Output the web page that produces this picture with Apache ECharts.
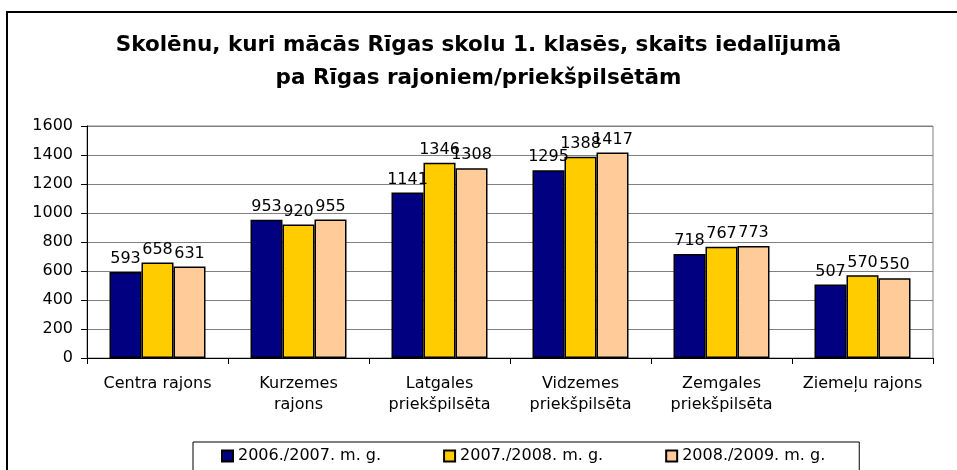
<!DOCTYPE html>
<html>
<head>
<meta charset="utf-8">
<script src="https://cdn.jsdelivr.net/npm/echarts@6/dist/echarts.min.js"></script>
<style>
html,body{margin:0;padding:0;background:#fff;}
#chart{width:957px;height:470px;}
</style>
</head>
<body>
<div id="chart"></div>
<script>
const categories = ['Centra rajons', 'Kurzemes\nrajons', 'Latgales\npriekšpilsēta', 'Vidzemes\npriekšpilsēta', 'Zemgales\npriekšpilsēta', 'Ziemeļu rajons'];
const seriesNames = ['2006./2007. m. g.', '2007./2008. m. g.', '2008./2009. m. g.'];
const values2006 = [593, 953, 1141, 1295, 718, 507];
const values2007 = [658, 920, 1346, 1388, 767, 570];
const values2008 = [631, 955, 1308, 1417, 773, 550];
const colors = ['#000080', '#FFCC00', '#FFCC99'];
const yTicks = { min: 0, max: 1600, interval: 200 };
const titleText = 'Skolēnu, kuri mācās Rīgas skolu 1. klasēs, skaits iedalījumā\npa Rīgas rajoniem/priekšpilsētām';

const FONT = 'DejaVu Sans';
const chart = echarts.init(document.getElementById('chart'), null, { renderer: 'canvas' });
const allValues = [values2006, values2007, values2008];

const series = allValues.map((vals, i) => ({
  name: seriesNames[i],
  type: 'bar',
  data: vals,
  barWidth: 32,
  barGap: '0%',
  itemStyle: { color: colors[i], borderColor: '#000', borderWidth: 1.5 },
  label: {
    show: true, position: 'top', distance: 5,
    fontFamily: FONT, fontSize: 16, color: '#000'
  },
  emphasis: { disabled: true }
}));

chart.setOption({
  animation: false,
  backgroundColor: '#fff',
  title: {
    text: titleText,
    left: 'center',
    top: 29,
    padding: 0,
    textStyle: { fontFamily: FONT, fontWeight: 'bold', fontSize: 21.5, lineHeight: 33, color: '#000' }
  },
  graphic: [{
    type: 'rect', z: 100,
    shape: { x: 7, y: 12, width: 1000, height: 500 },
    style: { fill: 'none', stroke: '#000', lineWidth: 2 },
    silent: true
  }],
  grid: {
    left: 87, right: 24, top: 126, bottom: 112,
    show: true, borderColor: '#808080', borderWidth: 1, backgroundColor: 'transparent'
  },
  legend: {
    data: seriesNames,
    left: 193, top: 442,
    padding: [6, 34, 10, 28],
    itemGap: 62,
    itemWidth: 11, itemHeight: 11,
    icon: 'rect',
    borderColor: '#000', borderWidth: 1,
    textStyle: { fontFamily: FONT, fontSize: 16, color: '#000' }
  },
  xAxis: {
    type: 'category',
    data: categories,
    axisLine: { lineStyle: { color: '#000', width: 1 } },
    axisTick: { show: true, length: 6, lineStyle: { color: '#000' }, alignWithLabel: false },
    axisLabel: { fontFamily: FONT, fontSize: 16, color: '#000', margin: 15, lineHeight: 21, interval: 0 }
  },
  yAxis: {
    type: 'value',
    min: yTicks.min, max: yTicks.max, interval: yTicks.interval,
    axisLine: { show: true, lineStyle: { color: '#000', width: 1 } },
    axisTick: { show: true, length: 6, lineStyle: { color: '#000' } },
    axisLabel: { fontFamily: FONT, fontSize: 16, color: '#000', margin: 14, formatter: v => String(v) },
    splitLine: { show: true, lineStyle: { color: '#808080', width: 1 } }
  },
  series: series
});
</script>
</body>
</html>
